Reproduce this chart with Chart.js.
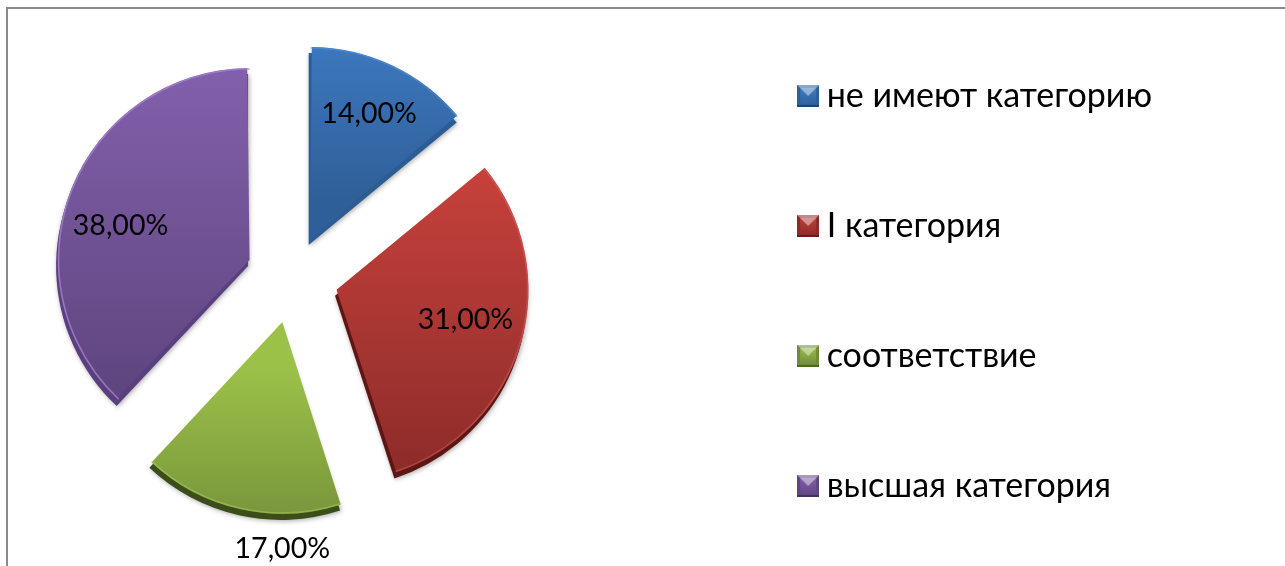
<!DOCTYPE html>
<html><head><meta charset="utf-8">
<style>
html,body{margin:0;padding:0;background:#fff;overflow:hidden}
#frame{position:absolute;left:6px;top:7px;width:1285px;height:566px;border-left:2px solid #8a8a8a;border-top:2px solid #8a8a8a;box-sizing:border-box;pointer-events:none}
#wrap{position:absolute;left:-126px;top:-45px;width:1288px;height:644px}
</style>
<script src="https://cdn.jsdelivr.net/npm/chart.js@4/dist/chart.umd.min.js"></script>
</head><body>
<div id="frame"></div>
<div id="wrap"><canvas id="c" width="1288" height="644"></canvas></div>
<script>
const categories = ["не имеют категорию", "I категория", "соответствие", "высшая категория"];
const values = [14, 31, 17, 38];
const valueLabels = ["14,00%", "31,00%", "17,00%", "38,00%"];
const topColors = ["#3f7dc6", "#c5403b", "#9cc149", "#8561ae"];
const bottomColors = ["#2f5f98", "#8a2b29", "#6f8a38", "#5f4680"];
const sideColors = ["#2c5c94", "#5e1614", "#3c4d1a", "#5a3f80"];
const rimColors = ["rgba(90,150,220,.5)", "rgba(220,110,105,.4)", "rgba(180,215,110,.4)", "rgba(165,130,205,.8)"];
const sliceOffsets = [168, 184, 184, 184];
const labelRadius = [0.72, 0.69, 1.18, 0.695];
const labelAngleShift = [0, -3, -12.6, -6.8];
const FONT = "Lato, Carlito, 'Open Sans', sans-serif";

function bevelIcon(top, bottom) {
  const s = 22, cv = document.createElement('canvas');
  cv.width = s; cv.height = s;
  const g = cv.getContext('2d');
  g.fillStyle = bottom; g.fillRect(0, 0, s, s);
  const b = 3;
  const inner = g.createLinearGradient(0, 0, 0, s);
  inner.addColorStop(0, top); inner.addColorStop(1, bottom);
  g.fillStyle = inner; g.fillRect(b, b, s - 2 * b, s - 2 * b);
  g.fillStyle = 'rgba(255,255,255,.45)';
  g.beginPath(); g.moveTo(0, 0); g.lineTo(s, 0); g.lineTo(s / 2, s / 2); g.closePath(); g.fill();
  g.fillStyle = 'rgba(0,0,0,.28)';
  g.fillRect(0, s - 2, s, 2);
  return cv;
}

function sliceBounds(a, R) {
  const mid = (a.startAngle + a.endAngle) / 2, off = (a.options.offset || 0) / 4;
  const cx = a.x + Math.cos(mid) * off, cy = a.y + Math.sin(mid) * off;
  let lo = cy, hi = cy;
  for (let i = 0; i <= 40; i++) {
    const t = a.startAngle + (a.endAngle - a.startAngle) * i / 40;
    const y = cy + Math.sin(t) * R;
    lo = Math.min(lo, y); hi = Math.max(hi, y);
  }
  return {cx, cy, lo, hi, mid, R, start: a.startAngle, end: a.endAngle};
}

const solidPie = {
  id: 'solidPie',
  beforeDatasetsDraw(chart) {
    const ctx = chart.ctx;
    const meta = chart.getDatasetMeta(0);
    const R = meta.controller.outerRadius;
    meta.data.forEach((a, i) => {
      const off = (a.options.offset || 0) / 4;
      const fix = 1 - Math.sin(Math.min(Math.PI, a.circumference));
      a.outerRadius = R - off * fix;
      const b = sliceBounds(a, R);
      const g = ctx.createLinearGradient(0, b.lo, 0, b.hi);
      g.addColorStop(0, topColors[i]); g.addColorStop(1, bottomColors[i]);
      a.options = Object.assign({}, a.options, {backgroundColor: g});
      ctx.save();
      ctx.shadowColor = 'rgba(0,0,0,.35)'; ctx.shadowBlur = 5; ctx.shadowOffsetX = 1; ctx.shadowOffsetY = 1;
      ctx.fillStyle = sideColors[i];
      ctx.beginPath();
      ctx.moveTo(b.cx - 1.5, b.cy + 6);
      ctx.arc(b.cx - 1.5, b.cy + 6, R, b.start, b.end);
      ctx.closePath(); ctx.fill();
      ctx.restore();
    });
  },
  afterDatasetsDraw(chart) {
    const ctx = chart.ctx;
    const meta = chart.getDatasetMeta(0);
    const R = meta.controller.outerRadius;
    meta.data.forEach((a, i) => {
      const b = sliceBounds(a, R);
      ctx.save();
      ctx.strokeStyle = rimColors[i]; ctx.lineWidth = 1.5;
      ctx.beginPath();
      ctx.arc(b.cx, b.cy, R - 1, b.start, b.end);
      ctx.stroke();
      ctx.restore();
      const ang = b.mid + labelAngleShift[i] * Math.PI / 180;
      const r = R * labelRadius[i];
      ctx.save();
      ctx.font = "28.5px " + FONT;
      ctx.fillStyle = '#000'; ctx.textAlign = 'center'; ctx.textBaseline = 'middle';
      ctx.fillText(valueLabels[i], b.cx + Math.cos(ang) * r, b.cy + Math.sin(ang) * r);
      ctx.restore();
    });
  }
};

new Chart(document.getElementById('c'), {
  type: 'pie',
  data: {labels: categories, datasets: [{
    data: values,
    backgroundColor: topColors,
    borderWidth: 0,
    offset: sliceOffsets,
    radius: 192
  }]},
  plugins: [solidPie],
  options: {
    responsive: false,
    animation: false,
    plugins: {
      tooltip: {enabled: false},
      legend: {
        position: 'right',
        align: 'end',
        labels: {
          usePointStyle: true,
          boxWidth: 3,
          padding: 96,
          color: '#000',
          font: {family: FONT, size: 34},
          generateLabels: chart => categories.map((t, i) => ({
            text: t, index: i, datasetIndex: 0, hidden: false,
            fontColor: '#000', lineWidth: 0, strokeStyle: 'transparent',
            fillStyle: topColors[i],
            pointStyle: bevelIcon(topColors[i], bottomColors[i])
          }))
        }
      }
    }
  }
});
</script>
</body></html>
